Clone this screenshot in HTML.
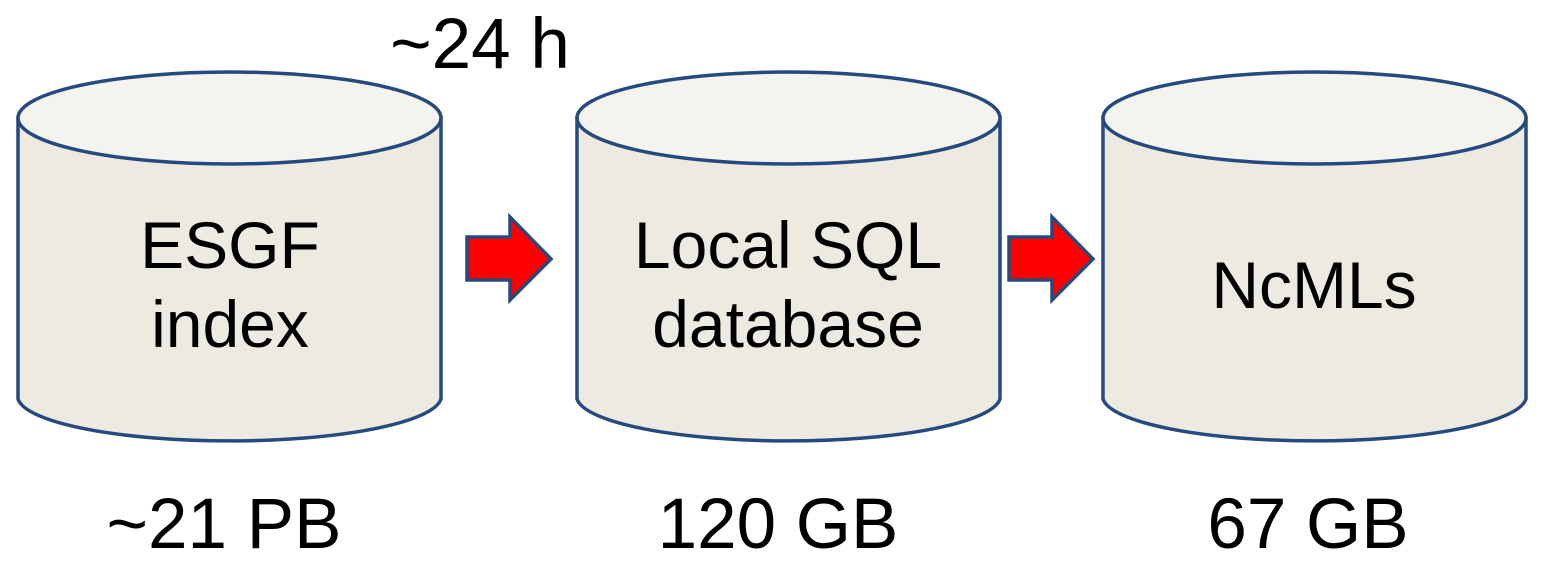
<!DOCTYPE html>
<html><head><style>
body{margin:0;background:#fff;}
svg{display:block;}
text{font-family:"Liberation Sans",Arial,sans-serif;fill:#000;}
</style></head><body>
<svg width="1544" height="564" viewBox="0 0 1544 564" xmlns="http://www.w3.org/2000/svg">
<g stroke="#264a7e" stroke-width="3.5">
<path d="M18,118 L18,399 A212,45 0 0 0 441,399 L441,118 Z" fill="#edebe1"/>
<ellipse cx="229.5" cy="118" rx="211.5" ry="46" fill="#f4f3ee"/>
<path d="M577,118 L577,399 A212,45 0 0 0 1000,399 L1000,118 Z" fill="#edebe1"/>
<ellipse cx="788.5" cy="118" rx="211.5" ry="46" fill="#f4f3ee"/>
<path d="M1103,118 L1103,399 A212,45 0 0 0 1526,399 L1526,118 Z" fill="#edebe1"/>
<ellipse cx="1314.5" cy="118" rx="211.5" ry="46" fill="#f4f3ee"/>
<path d="M467,237 L510,237 L510,217 L551,259 L510,300 L510,280 L467,280 Z" fill="#ff0000"/>
<path d="M1009,237 L1052,237 L1052,217 L1093,259 L1052,300 L1052,280 L1009,280 Z" fill="#ff0000"/>
</g>
<g font-size="66" text-anchor="middle">
<text x="230" y="268">ESGF</text>
<text x="230" y="347">index</text>
<text x="788" y="268">Local SQL</text>
<text x="788" y="347">database</text>
<text x="1314" y="308">NcMLs</text>
</g>
<g font-size="71" text-anchor="middle">
<text x="480" y="68">~24 h</text>
<text x="224" y="548">~21 PB</text>
<text x="778" y="548">120 GB</text>
<text x="1308" y="548">67 GB</text>
</g>
</svg>
</body></html>
